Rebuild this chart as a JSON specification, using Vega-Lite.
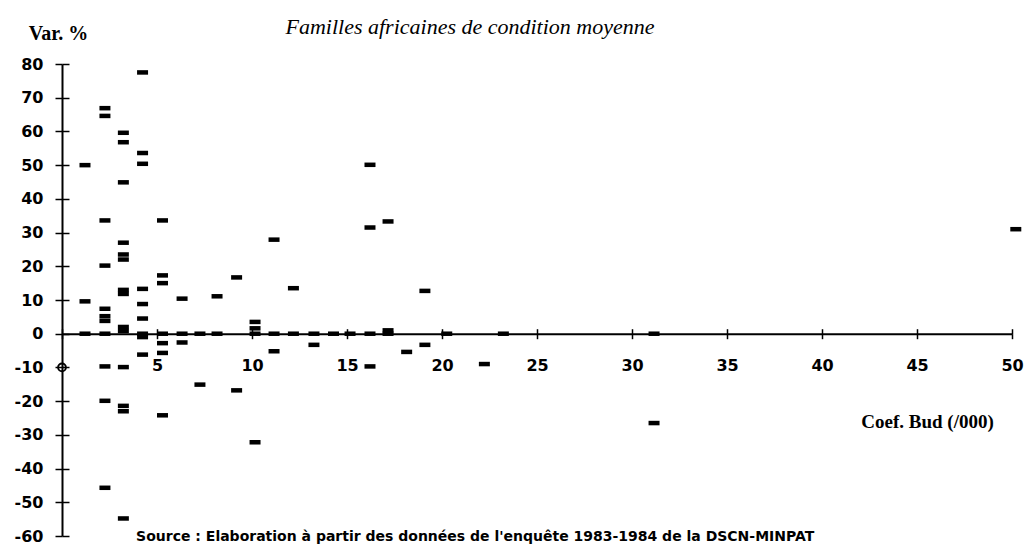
{
  "$schema": "https://vega.github.io/schema/vega-lite/v6.json",
  "width": 950,
  "height": 472,
  "autosize": {"type": "none"},
  "padding": {"left": 62, "top": 64, "right": 17, "bottom": 9},
  "background": "white",
  "config": {"view": {"stroke": null}, "axis": {"grid": false}},
  "title": {
    "text": "Familles africaines de condition moyenne",
    "font": "Liberation Serif",
    "fontStyle": "italic",
    "fontWeight": "normal",
    "fontSize": 22,
    "color": "black",
    "anchor": "middle",
    "frame": "group",
    "baseline": "middle",
    "dx": -67,
    "dy": 30
  },
  "datasets": {
    "pts": [
      {"x": 1.21, "y": 50}, {"x": 1.21, "y": 9.6}, {"x": 1.21, "y": 0},
      {"x": 2.26, "y": 66.9}, {"x": 2.26, "y": 64.6}, {"x": 2.26, "y": 33.6}, {"x": 2.26, "y": 20.2},
      {"x": 2.26, "y": 7.4}, {"x": 2.26, "y": 5.2}, {"x": 2.26, "y": 3.8}, {"x": 2.26, "y": 0},
      {"x": 2.26, "y": -9.7}, {"x": 2.26, "y": -19.9}, {"x": 2.26, "y": -45.7},
      {"x": 3.23, "y": 59.6}, {"x": 3.23, "y": 56.8}, {"x": 3.23, "y": 44.9}, {"x": 3.23, "y": 27},
      {"x": 3.23, "y": 23.5}, {"x": 3.23, "y": 22}, {"x": 3.23, "y": 13}, {"x": 3.23, "y": 11.8},
      {"x": 3.23, "y": 2}, {"x": 3.23, "y": 0.8}, {"x": 3.23, "y": -9.9}, {"x": 3.23, "y": -21.4},
      {"x": 3.23, "y": -23}, {"x": 3.23, "y": -54.8},
      {"x": 4.24, "y": 77.5}, {"x": 4.24, "y": 53.6}, {"x": 4.24, "y": 50.4}, {"x": 4.24, "y": 13.3},
      {"x": 4.24, "y": 8.8}, {"x": 4.24, "y": 4.5}, {"x": 4.24, "y": 0}, {"x": 4.24, "y": -1},
      {"x": 4.24, "y": -6.2},
      {"x": 5.29, "y": 33.6}, {"x": 5.29, "y": 17.3}, {"x": 5.29, "y": 15}, {"x": 5.29, "y": 0},
      {"x": 5.29, "y": -2.8}, {"x": 5.29, "y": -5.7}, {"x": 5.29, "y": -24.2},
      {"x": 6.32, "y": 10.4}, {"x": 6.32, "y": 0}, {"x": 6.32, "y": -2.6},
      {"x": 7.26, "y": 0}, {"x": 7.26, "y": -15.1},
      {"x": 8.16, "y": 11.1}, {"x": 8.16, "y": 0},
      {"x": 9.19, "y": 16.7}, {"x": 9.19, "y": -16.8},
      {"x": 10.16, "y": 3.5}, {"x": 10.16, "y": 1.6}, {"x": 10.16, "y": 0}, {"x": 10.16, "y": -32.2},
      {"x": 11.16, "y": 27.9}, {"x": 11.16, "y": 0}, {"x": 11.16, "y": -5.2},
      {"x": 12.18, "y": 13.5}, {"x": 12.18, "y": 0},
      {"x": 13.26, "y": 0}, {"x": 13.26, "y": -3.3},
      {"x": 14.29, "y": 0},
      {"x": 15.16, "y": 0},
      {"x": 16.21, "y": 50.1}, {"x": 16.21, "y": 31.5}, {"x": 16.21, "y": 0}, {"x": 16.21, "y": -9.7},
      {"x": 17.16, "y": 33.3}, {"x": 17.16, "y": 1}, {"x": 17.16, "y": 0},
      {"x": 18.14, "y": -5.4},
      {"x": 19.1, "y": 12.7}, {"x": 19.1, "y": -3.3},
      {"x": 20.25, "y": 0},
      {"x": 22.23, "y": -9.0},
      {"x": 23.23, "y": 0},
      {"x": 31.16, "y": 0}, {"x": 31.16, "y": -26.5},
      {"x": 50.2, "y": 31}
    ],
    "origin": [{"x": 0, "y": -10}],
    "note": [{"t": "Source : Elaboration à partir des données de l'enquête 1983-1984 de la DSCN-MINPAT"}]
  },
  "layer": [
    {
      "data": {"name": "pts"},
      "mark": {"type": "point", "shape": "M-1,-0.41H1V0.41H-1Z", "filled": true, "size": 121, "color": "black", "opacity": 1, "clip": false},
      "encoding": {
        "x": {
          "field": "x", "type": "quantitative",
          "scale": {"domain": [0, 50], "nice": false, "zero": false},
          "axis": {
            "orient": "bottom", "offset": -202.3,
            "values": [0, 5, 10, 15, 20, 25, 30, 35, 40, 45, 50],
            "labelExpr": "datum.value == 0 ? '' : toString(datum.value)",
            "domainColor": "black", "domainWidth": 2,
            "tickColor": "black", "tickWidth": 1.5, "tickSize": 5,
            "labelFont": "DejaVu Sans", "labelFontWeight": "bold", "labelFontSize": 16, "labelColor": "black",
            "labelPadding": 19, "labelFlush": false, "labelOverlap": false,
            "title": "Coef. Bud (/000)",
            "titleFont": "Liberation Serif", "titleFontWeight": "bold", "titleFontSize": 19, "titleColor": "black",
            "titleX": 865, "titleY": 88, "titleAlign": "center", "titleBaseline": "middle", "titleAnchor": null
          }
        },
        "y": {
          "field": "y", "type": "quantitative",
          "scale": {"domain": [-60, 80], "nice": false, "zero": false},
          "axis": {
            "orient": "left",
            "values": [-60, -50, -40, -30, -20, -10, 0, 10, 20, 30, 40, 50, 60, 70, 80],
            "labelExpr": "toString(datum.value)",
            "domainColor": "black", "domainWidth": 2,
            "tickColor": "black", "tickWidth": 1.5, "tickSize": 7,
            "labelFont": "DejaVu Sans", "labelFontWeight": "bold", "labelFontSize": 16, "labelColor": "black",
            "labelPadding": 12, "labelFlush": false, "labelOverlap": false,
            "title": "Var. %",
            "titleFont": "Liberation Serif", "titleFontWeight": "bold", "titleFontSize": 20, "titleColor": "black",
            "titleAngle": 0, "titleX": -4, "titleY": -31, "titleAlign": "center", "titleBaseline": "middle", "titleAnchor": null
          }
        }
      }
    },
    {
      "data": {"name": "origin"},
      "mark": {"type": "point", "shape": "circle", "size": 60, "filled": false, "stroke": "black", "strokeWidth": 2, "opacity": 1, "clip": false},
      "encoding": {
        "x": {
          "field": "x", "type": "quantitative",
          "axis": {
            "orient": "top", "offset": -269.7,
            "values": [0, 5, 10, 15, 20, 25, 30, 35, 40, 45, 50],
            "domain": false, "labels": false, "title": null,
            "tickColor": "black", "tickWidth": 1.5, "tickSize": 5
          }
        },
        "y": {
          "field": "y", "type": "quantitative",
          "axis": {
            "orient": "right", "offset": -950,
            "values": [-60, -50, -40, -30, -20, -10, 0, 10, 20, 30, 40, 50, 60, 70, 80],
            "domain": false, "labels": false, "title": null,
            "tickColor": "black", "tickWidth": 1.5, "tickSize": 7
          }
        }
      }
    },
    {
      "data": {"name": "note"},
      "mark": {"type": "text", "align": "left", "baseline": "bottom", "font": "DejaVu Sans", "fontWeight": "bold", "fontSize": 14, "color": "black", "clip": false},
      "encoding": {
        "x": {"datum": 3.9, "type": "quantitative", "axis": null},
        "y": {"datum": -62.4, "type": "quantitative", "axis": null},
        "text": {"field": "t"}
      }
    }
  ],
  "resolve": {"axis": {"x": "independent", "y": "independent"}}
}
